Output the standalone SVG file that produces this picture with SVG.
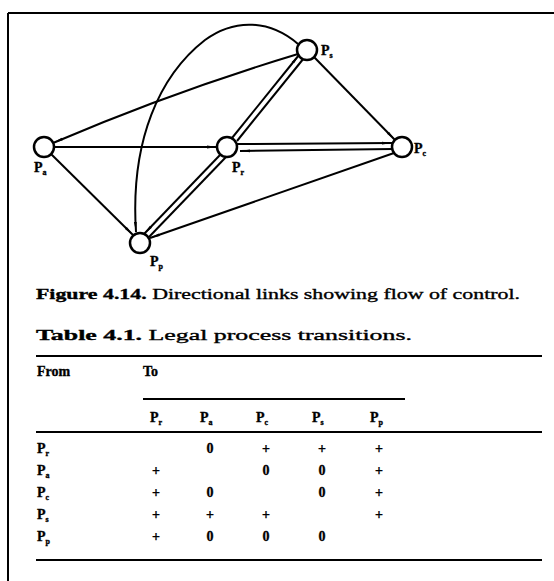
<svg xmlns="http://www.w3.org/2000/svg" width="554" height="581" viewBox="0 0 554 581">
<style>
.node{fill:#fff;stroke:#000;stroke-width:2.5}
.e{fill:none;stroke:#000;stroke-width:2}
.t{font-family:"Liberation Serif","Times New Roman",serif;fill:#000;stroke:#000;stroke-width:0.35}
.lbl{font-size:14px;font-weight:bold}
.sub{font-size:8px;font-weight:bold}
.cap{font-size:15px}
.tb{font-size:14px;font-weight:bold}
.rule{stroke:#000;stroke-width:2}
</style>
<defs>
<marker id="ah" viewBox="0 0 10 4" refX="10" refY="2" markerWidth="10" markerHeight="4" markerUnits="userSpaceOnUse" orient="auto">
<path d="M0,0.6 L10,2 L0,3.4 z" fill="#000"/>
</marker>
</defs>
<rect width="554" height="581" fill="#fff"/>
<g id="frame">
<line x1="8" y1="13" x2="554" y2="13" class="rule"/>
<line x1="8" y1="13" x2="8" y2="581" class="rule" stroke-width="1.5"/>
</g>
<g id="connectors">
<path class="e" d="M298,54 Q172,92 53,143" marker-end="url(#ah)"/>
<line class="e" x1="54" y1="147" x2="217" y2="147" marker-end="url(#ah)"/>
<line class="e" x1="51" y1="154" x2="133" y2="235" marker-end="url(#ah)"/>
<line class="e" x1="314" y1="57" x2="395" y2="140" marker-end="url(#ah)"/>
<line class="e" x1="232" y1="138" x2="299" y2="55" marker-end="url(#ah)"/>
<line class="e" x1="304" y1="58" x2="237" y2="141"/>
<line class="e" x1="237" y1="144" x2="392" y2="143" marker-end="url(#ah)"/>
<line class="e" x1="393" y1="149" x2="240" y2="151" marker-end="url(#ah)"/>
<line class="e" x1="220" y1="155" x2="144" y2="234" marker-end="url(#ah)"/>
<line class="e" x1="149" y1="237" x2="226" y2="157"/>
<line class="e" x1="394" y1="153" x2="150" y2="238" marker-end="url(#ah)"/>
<path class="e" d="M298,44 C270,20 235,18 205,40 C160,75 130,140 136,232" marker-end="url(#ah)"/>
</g>
<g id="Ps"><circle class="node" cx="307" cy="50" r="10"/><text class="t lbl" x="321" y="55">P<tspan class="sub" dy="3">s</tspan></text></g>
<g id="Pa"><circle class="node" cx="44" cy="147" r="10"/><text class="t lbl" x="34" y="172">P<tspan class="sub" dy="3">a</tspan></text></g>
<g id="Pr"><circle class="node" cx="227" cy="147" r="10"/><text class="t lbl" x="232" y="172">P<tspan class="sub" dy="3">r</tspan></text></g>
<g id="Pc"><circle class="node" cx="402" cy="147" r="10"/><text class="t lbl" x="414" y="153">P<tspan class="sub" dy="3">c</tspan></text></g>
<g id="Pp"><circle class="node" cx="140" cy="243" r="10"/><text class="t lbl" x="150" y="266">P<tspan class="sub" dy="3">p</tspan></text></g>
<g id="caption">
<text class="t cap" x="36" y="299" textLength="484" lengthAdjust="spacingAndGlyphs"><tspan font-weight="bold">Figure 4.14.</tspan> Directional links showing flow of control.</text>
<text class="t cap" x="36" y="340" textLength="376" lengthAdjust="spacingAndGlyphs"><tspan font-weight="bold">Table 4.1.</tspan> Legal process transitions.</text>
</g>
<g id="table">
<line x1="36" y1="356" x2="542" y2="356" class="rule"/>
<text class="t tb" x="37" y="376">From</text>
<text class="t tb" x="143" y="376">To</text>
<line x1="143" y1="399" x2="405" y2="399" class="rule"/>
<g class="t tb">
<text x="150" y="422">P<tspan class="sub" dy="3">r</tspan></text>
<text x="200" y="422">P<tspan class="sub" dy="3">a</tspan></text>
<text x="256" y="422">P<tspan class="sub" dy="3">c</tspan></text>
<text x="312" y="422">P<tspan class="sub" dy="3">s</tspan></text>
<text x="370" y="422">P<tspan class="sub" dy="3">p</tspan></text>
</g>
<line x1="36" y1="432" x2="542" y2="432" class="rule"/>
<g class="t tb">
<text x="37" y="453">P<tspan class="sub" dy="3">r</tspan></text>
<text x="37" y="475">P<tspan class="sub" dy="3">a</tspan></text>
<text x="37" y="497">P<tspan class="sub" dy="3">c</tspan></text>
<text x="37" y="519">P<tspan class="sub" dy="3">s</tspan></text>
<text x="37" y="541">P<tspan class="sub" dy="3">p</tspan></text>
</g>
<g class="t tb" text-anchor="middle">
<text x="210" y="453">0</text><text x="266" y="453">+</text><text x="322" y="453">+</text><text x="379" y="453">+</text>
<text x="156" y="475">+</text><text x="266" y="475">0</text><text x="322" y="475">0</text><text x="379" y="475">+</text>
<text x="156" y="497">+</text><text x="210" y="497">0</text><text x="322" y="497">0</text><text x="379" y="497">+</text>
<text x="156" y="519">+</text><text x="210" y="519">+</text><text x="266" y="519">+</text><text x="379" y="519">+</text>
<text x="156" y="541">+</text><text x="210" y="541">0</text><text x="266" y="541">0</text><text x="322" y="541">0</text>
</g>
<line x1="36" y1="560" x2="542" y2="560" class="rule"/>
</g>
</svg>
